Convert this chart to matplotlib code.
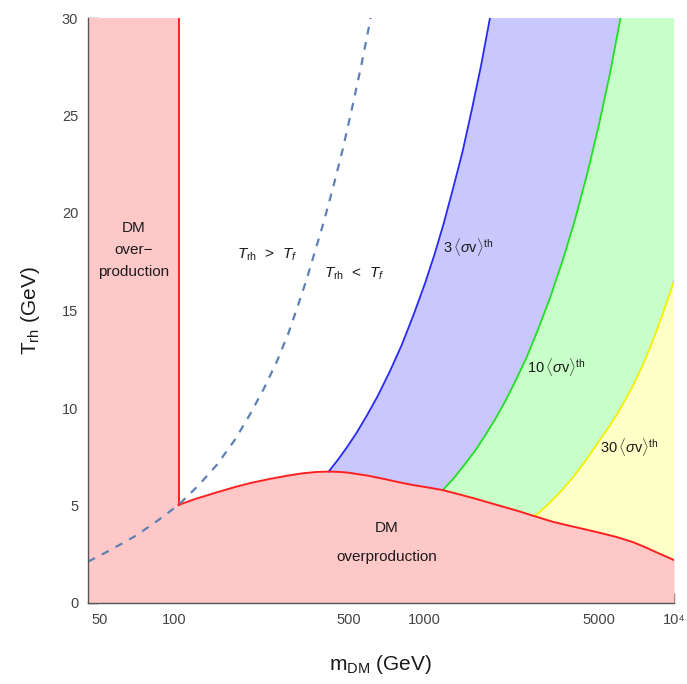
import numpy as np
import matplotlib
matplotlib.use("Agg")
import matplotlib.pyplot as plt
from matplotlib.ticker import FixedLocator, NullFormatter

plt.rcParams['font.family'] = ['Liberation Sans', 'DejaVu Sans']
plt.rcParams['mathtext.fontset'] = 'custom'
plt.rcParams['mathtext.rm'] = 'Liberation Sans'
plt.rcParams['mathtext.it'] = 'Liberation Sans:italic'
plt.rcParams['mathtext.bf'] = 'Liberation Sans:bold'

# ---------------- data ----------------
# left overproduction edge (vertical red line)
m_cut = 103.7

# lower red boundary (DM overproduction)
bound_m = [103.7, 120, 148, 175, 201, 240, 280, 325, 371, 414, 460, 500, 600, 703, 800, 900,
           1040, 1186, 1400, 1600, 2028, 2400, 2767, 3300, 4000, 4500, 5045, 5900, 6855,
           7700, 8500, 9300, 10000]
bound_T = [5.03, 5.32, 5.68, 5.95, 6.15, 6.36, 6.52, 6.65, 6.72, 6.74, 6.72, 6.68, 6.52, 6.34,
           6.18, 6.05, 5.92, 5.79, 5.55, 5.35, 4.97, 4.70, 4.45, 4.15, 3.90, 3.75, 3.60, 3.38,
           3.12, 2.85, 2.60, 2.38, 2.20]

# 3 <sigma v>^th boundary (blue)
blue_m = [414, 450, 489, 535, 588, 650, 729, 810, 904, 1007, 1100, 1192, 1300, 1420, 1550, 1690, 1832]
blue_T = [6.74, 7.33, 7.97, 8.72, 9.6, 10.6, 11.9, 13.2, 14.75, 16.4, 17.9, 19.4, 21.2, 23.1, 25.3, 27.6, 30.0]

# 10 <sigma v>^th boundary (green)
green_m = [1186, 1309, 1450, 1600, 1750, 1918, 2100, 2300, 2570, 2850, 3200, 3600, 4010, 4500, 5000, 5550, 6105]
green_T = [5.79, 6.38, 7.1, 7.82, 8.58, 9.4, 10.3, 11.3, 12.6, 14.0, 15.7, 17.65, 19.64, 22.05, 24.5, 27.2, 30.0]

# 30 <sigma v>^th boundary (yellow)
yellow_m = [2767, 3100, 3500, 3900, 4400, 5045, 5500, 5890, 6400, 6855, 7500, 8200, 9000, 10000]
yellow_T = [4.45, 5.0, 5.68, 6.38, 7.25, 8.36, 9.05, 9.65, 10.45, 11.15, 12.2, 13.4, 14.8, 16.5]

# T_rh = T_f (dashed)
dash_m = [45, 55, 70, 85, 103.7, 125, 148, 175, 201, 230, 257, 285, 309, 335, 359.5, 395, 433, 470, 512, 560, 610]
dash_T = [2.12, 2.7, 3.45, 4.2, 5.03, 6.05, 7.1, 8.4, 9.7, 11.1, 12.4, 13.8, 15.1, 16.45, 17.75, 19.5, 21.4, 23.2, 25.3, 27.6, 30.0]

x_major = [50, 100, 500, 1000, 5000, 10000]
x_major_labels = ['50', '100', '500', '1000', '5000', '10\u2074']
x_minor = [60, 70, 80, 90, 200, 300, 400, 600, 700, 800, 900,
           2000, 3000, 4000, 6000, 7000, 8000, 9000]
y_major = [0, 5, 10, 15, 20, 25, 30]
y_minor = [v for v in range(0, 31) if v % 5 != 0]

xmin, xmax = 45, 10000
ymin, ymax = 0, 30

# ---------------- colours ----------------
pink = '#FFC8C8'
blue_f = '#C8C8FF'
green_f = '#C8FFC8'
yellow_f = '#FFFFC8'
red_l = '#FF2020'
blue_l = '#2A2AF0'
green_l = '#20E020'
yellow_l = '#F0F000'
dash_c = '#5E81B5'
gray = '#555555'

fig = plt.figure(figsize=(6.87, 6.84), dpi=100)
ax = fig.add_axes([88/687, 81/684, (674-88)/687, (603-18)/684])
ax.set_xscale('log')
ax.set_xlim(xmin, xmax)
ax.set_ylim(ymin, ymax)

bm = np.array(bound_m); bT = np.array(bound_T)

def region(curve_m, curve_T, color):
    cm = np.array(curve_m); cT = np.array(curve_T)
    start = cm[0]
    mask = bm > start
    xs = list(cm) + [xmax] + list(bm[mask][::-1])
    ys = list(cT) + [ymax] + list(bT[mask][::-1])
    ax.fill(xs, ys, color=color, lw=0, zorder=1)

region(blue_m, blue_T, blue_f)
region(green_m, green_T, green_f)
region(yellow_m, yellow_T, yellow_f)

# overproduction regions
ax.fill_between(bm, 0, bT, color=pink, lw=0, zorder=2)
ax.fill_between([xmin, m_cut], 0, ymax, color=pink, lw=0, zorder=2)

# boundary lines
ax.plot(blue_m, blue_T, color=blue_l, lw=1.3, zorder=3)
ax.plot(green_m, green_T, color=green_l, lw=1.3, zorder=3)
ax.plot(yellow_m, yellow_T, color=yellow_l, lw=1.3, zorder=3)
ax.plot(bm, bT, color=red_l, lw=1.4, zorder=4)
ax.plot([m_cut, m_cut], [bound_T[0], ymax], color=red_l, lw=1.4, zorder=4)
ax.plot(dash_m, dash_T, color=dash_c, lw=1.6, ls=(0, (3.5, 3.5)), zorder=5)

# ---------------- text ----------------
tc = '#1a1a1a'
ax.text(68.4, 18.1, 'DM\nover\u2212\nproduction', ha='center', va='center',
        fontsize=11, color=tc, linespacing=1.75, zorder=6)
ax.text(708, 3.85, 'DM', ha='center', va='center', fontsize=11, color=tc, zorder=6)
ax.text(708, 2.36, 'overproduction', ha='center', va='center', fontsize=11, color=tc, zorder=6)
ax.text(234, 17.85, r'$T_{\mathrm{rh}}$  >  $T_f$', ha='center', va='center',
        fontsize=11, color=tc, zorder=6)
ax.text(523, 16.9, r'$T_{\mathrm{rh}}$  <  $T_f$', ha='center', va='center',
        fontsize=11, color=tc, zorder=6)
ax.text(1190, 18.25, r'3$\,\langle \sigma \mathrm{v}\rangle^{\mathrm{th}}$', ha='left', va='center',
        fontsize=10.5, color=tc, zorder=6)
ax.text(2575, 12.1, r'10$\,\langle \sigma \mathrm{v}\rangle^{\mathrm{th}}$', ha='left', va='center',
        fontsize=10.5, color=tc, zorder=6)
ax.text(5045, 8.0, r'30$\,\langle \sigma \mathrm{v}\rangle^{\mathrm{th}}$', ha='left', va='center',
        fontsize=10.5, color=tc, zorder=6)

# ---------------- axes styling ----------------
for s in ['top', 'right']:
    ax.spines[s].set_visible(False)
for s in ['left', 'bottom']:
    ax.spines[s].set_color(gray)
    ax.spines[s].set_linewidth(1.0)
    ax.spines[s].set_zorder(10)

ax.xaxis.set_major_locator(FixedLocator(x_major))
ax.set_xticklabels(x_major_labels)
ax.xaxis.set_minor_locator(FixedLocator(x_minor))
ax.xaxis.set_minor_formatter(NullFormatter())
ax.yaxis.set_major_locator(FixedLocator(y_major))
ax.yaxis.set_minor_locator(FixedLocator(y_minor))

ax.tick_params(which='both', direction='in', color=gray, top=False, right=False)
ax.tick_params(which='major', length=7, width=1.0, labelsize=10.5, labelcolor='#444444', pad=7)
ax.tick_params(which='minor', length=4, width=0.8)

ax.set_xlabel(r'm$_{\mathrm{DM}}$ (GeV)', fontsize=15, color='#1a1a1a', labelpad=19)
ax.set_ylabel(r'T$_{\mathrm{rh}}$ (GeV)', fontsize=15, color='#1a1a1a', labelpad=14)

fig.savefig('out.png', dpi=100)
